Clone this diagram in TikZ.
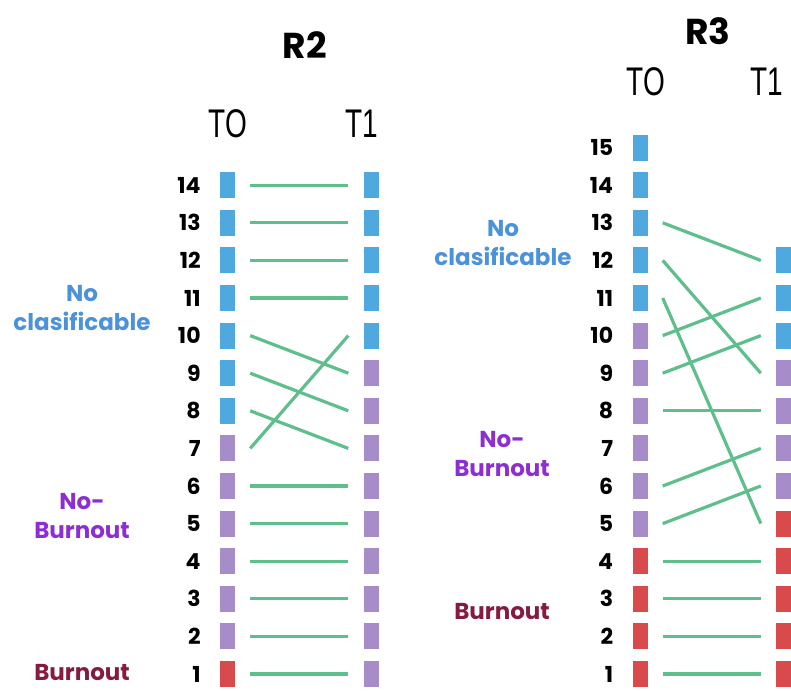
\documentclass[tikz,border=0pt]{standalone}
\usepackage{fontspec}
\setmainfont{Poppins}
\newfontfamily\tfont[FakeStretch=0.7]{Liberation Sans}
\usetikzlibrary{positioning}
\definecolor{nblue}{HTML}{4FA8DE}
\definecolor{npurp}{HTML}{A68CC9}
\definecolor{nred}{HTML}{D94A4C}
\definecolor{lgreen}{HTML}{5EBE8C}
\definecolor{tblue}{HTML}{4B92DA}
\definecolor{tpurp}{HTML}{8C2ED2}
\definecolor{tred}{HTML}{861B40}
\tikzset{
  bar/.style={rectangle, inner sep=0pt, minimum width=15pt, minimum height=26pt},
  num/.style={font=\fontsize{22}{22}\selectfont\bfseries, inner sep=0pt},
  link/.style={lgreen, line width=3.2pt},
  grp/.style={font=\fontsize{23}{29}\selectfont\bfseries, align=center, inner sep=0pt},
  ttl/.style={font=\fontsize{36}{36}\selectfont\bfseries, inner sep=0pt},
  tlab/.style={font=\fontsize{40}{40}\selectfont\tfont, inner sep=0pt},
}

\begin{document}
\begin{tikzpicture}[x=1pt, y=-1pt]
			%%%%% START %%%%%
			\useasboundingbox (0, 0) rectangle (791, 690);

			%% R2
			\node[ttl] (r2) at (305, 45) {R2};
			\node[tlab] (r2t0) at (228, 124) {TO};
			\node[tlab] (r2t1) at (362, 124) {T1};

			\foreach \i/\c in {14/nblue,13/nblue,12/nblue,11/nblue,10/nblue,9/nblue,8/nblue,7/npurp,6/npurp,5/npurp,4/npurp,3/npurp,2/npurp,1/nred}
				\node[bar, fill=\c] (a\i) at (227.5, {674-(\i-1)*37.6}) {};
			\foreach \i/\c in {14/nblue,13/nblue,12/nblue,11/nblue,10/nblue,9/npurp,8/npurp,7/npurp,6/npurp,5/npurp,4/npurp,3/npurp,2/npurp,1/npurp}
				\node[bar, fill=\c] (b\i) at (371, {674-(\i-1)*37.6}) {};
			\foreach \i in {1,...,14}
				\node[num, left=19pt of a\i] (na\i) {\i};

			\foreach \s/\t in {14/14,13/13,12/12,11/11,10/9,9/8,8/7,7/10,6/6,5/5,4/4,3/3,2/2,1/1}
				\draw[link] ([xshift=15pt]a\s.east) -- ([xshift=-15pt]b\t.west);

			\node[grp, tblue] (r2nc) at (82, 308) {No\\clasificable};
			\node[grp, tpurp] (r2nb) at (82, 516) {No-\\Burnout};
			\node[grp, tred] (r2b) at (82, 673) {Burnout};

			%% R3
			\node[ttl] (r3) at (708, 31) {R3};
			\node[tlab] (r3t0) at (646, 82) {TO};
			\node[tlab] (r3t1) at (767, 82) {T1};

			\foreach \i/\c in {15/nblue,14/nblue,13/nblue,12/nblue,11/nblue,10/npurp,9/npurp,8/npurp,7/npurp,6/npurp,5/npurp,4/nred,3/nred,2/nred,1/nred}
				\node[bar, fill=\c] (c\i) at (640, {674-(\i-1)*37.6}) {};
			\foreach \i/\c in {12/nblue,11/nblue,10/nblue,9/npurp,8/npurp,7/npurp,6/npurp,5/nred,4/nred,3/nred,2/nred,1/nred}
				\node[bar, fill=\c] (d\i) at (783.5, {674-(\i-1)*37.6}) {};
			\foreach \i in {1,...,15}
				\node[num, left=19pt of c\i] (nc\i) {\i};

			\foreach \s/\t in {13/12,12/9,11/5,10/11,9/10,8/8,6/7,5/6,4/4,3/3,2/2,1/1}
				\draw[link] ([xshift=15pt]c\s.east) -- ([xshift=-15pt]d\t.west);

			\node[grp, tblue] (r3nc) at (503, 243) {No\\clasificable};
			\node[grp, tpurp] (r3nb) at (502, 454) {No-\\Burnout};
			\node[grp, tred] (r3b) at (502, 612) {Burnout};

			%%%%% END %%%%%
\end{tikzpicture}
\end{document}
